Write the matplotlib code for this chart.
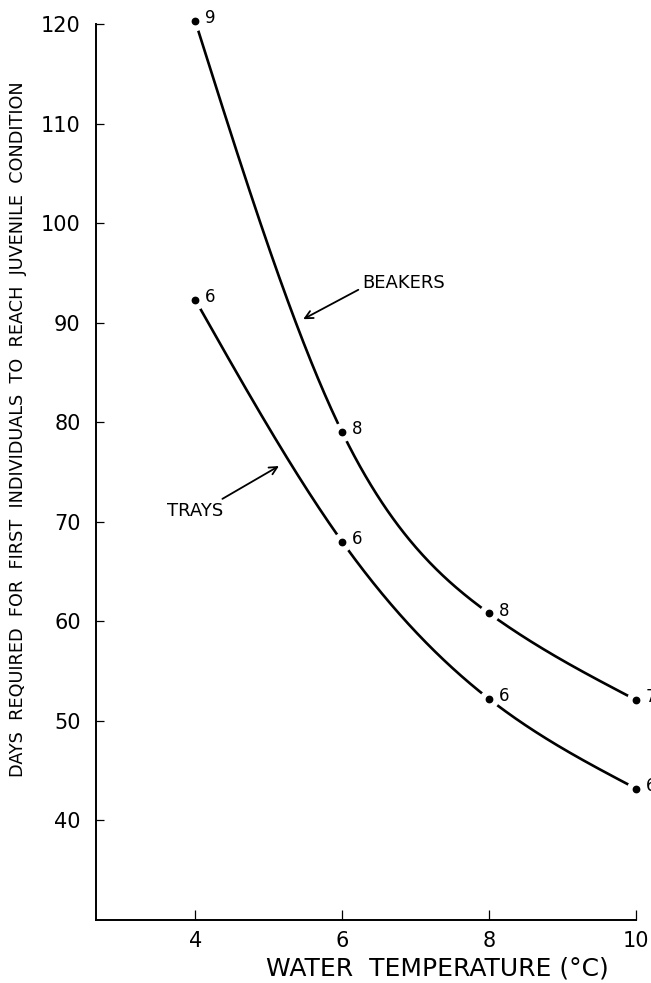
import numpy as np
import matplotlib
matplotlib.use("Agg")
import matplotlib.pyplot as plt

# ---- data ----
temperature = [4, 6, 8, 10]
beakers_days = [120.3, 79.0, 60.8, 52.1]
beakers_n = ["9", "8", "8", "7"]
trays_days = [92.3, 68.0, 52.2, 43.2]
trays_n = ["6", "6", "6", "6"]
y_ticks = [40, 50, 60, 70, 80, 90, 100, 110, 120]
x_ticks = [4, 6, 8, 10]


def natural_spline(x, y, xs):
    x = np.asarray(x, float)
    y = np.asarray(y, float)
    n = len(x)
    h = np.diff(x)
    A = np.zeros((n, n))
    b = np.zeros(n)
    A[0, 0] = 1
    A[-1, -1] = 1
    for i in range(1, n - 1):
        A[i, i - 1] = h[i - 1]
        A[i, i] = 2 * (h[i - 1] + h[i])
        A[i, i + 1] = h[i]
        b[i] = 6 * ((y[i + 1] - y[i]) / h[i] - (y[i] - y[i - 1]) / h[i - 1])
    M = np.linalg.solve(A, b)
    out = np.empty_like(xs)
    for j, xv in enumerate(xs):
        i = min(np.searchsorted(x, xv, side="right") - 1, n - 2)
        i = max(i, 0)
        hi = h[i]
        a = (x[i + 1] - xv) / hi
        c = (xv - x[i]) / hi
        out[j] = (a * y[i] + c * y[i + 1]
                  + ((a ** 3 - a) * M[i] + (c ** 3 - c) * M[i + 1]) * hi ** 2 / 6)
    return out


plt.rcParams['font.family'] = ['DejaVu Sans']

fig = plt.figure(figsize=(6.51, 9.83), dpi=100)
ax = fig.add_axes([0.1475, 0.0641, 0.977 - 0.1475, 0.9756 - 0.0641])

xs = np.linspace(min(temperature), max(temperature), 400)
for days, labels in [(beakers_days, beakers_n), (trays_days, trays_n)]:
    ax.plot(xs, natural_spline(temperature, days, xs), color="black",
            lw=1.9, solid_capstyle="butt", zorder=2)
    ax.plot(temperature, days, linestyle="none", marker="o", ms=14,
            mfc="white", mec="none", zorder=3, clip_on=False)
    ax.plot(temperature, days, linestyle="none", marker="o", ms=4.6,
            mfc="black", mec="black", zorder=4, clip_on=False)
    for xv, yv, lab in zip(temperature, days, labels):
        ax.annotate(lab, (xv, yv), xytext=(7, 2), textcoords="offset points",
                    ha="left", va="center", fontsize=12, annotation_clip=False)

# curve labels with arrows
ax.text(6.27, 93.97, "BEAKERS", fontsize=13, ha="left", va="center")
ax.annotate("", xy=(5.47, 90.35), xytext=(6.22, 93.3),
            arrowprops=dict(arrowstyle="->", color="black", lw=1.3,
                            mutation_scale=14, shrinkA=0, shrinkB=0))
ax.text(3.62, 71.05, "TRAYS", fontsize=13, ha="left", va="center")
ax.annotate("", xy=(5.14, 75.6), xytext=(4.37, 72.3),
            arrowprops=dict(arrowstyle="->", color="black", lw=1.3,
                            mutation_scale=14, shrinkA=0, shrinkB=0))

ax.set_xlim(2.65, 10)
ax.set_ylim(30, 120)
ax.set_xticks(x_ticks)
ax.set_xticklabels([str(v) for v in x_ticks])
ax.set_yticks(y_ticks)
ax.set_yticklabels([str(v) for v in y_ticks])
ax.spines["top"].set_visible(False)
ax.spines["right"].set_visible(False)
ax.spines["left"].set_linewidth(1.4)
ax.spines["bottom"].set_linewidth(1.4)
ax.tick_params(axis="x", direction="in", length=7, width=0.9, pad=8, labelsize=15)
ax.tick_params(axis="y", direction="in", length=6, width=0.9, pad=11, labelsize=15)

ax.set_xlabel("WATER  TEMPERATURE (°C)", fontsize=18)
ax.xaxis.set_label_coords((437 - 96) / (636 - 96), -(969 - 920) / (920 - 24))
ax.xaxis.label.set_va("center")

fig.text(18 / 651, 1 - 429 / 983,
         "DAYS  REQUIRED  FOR  FIRST  INDIVIDUALS  TO  REACH  JUVENILE  CONDITION",
         rotation=90, ha="center", va="center", fontsize=12.7)

fig.savefig("out.png", dpi=100)
